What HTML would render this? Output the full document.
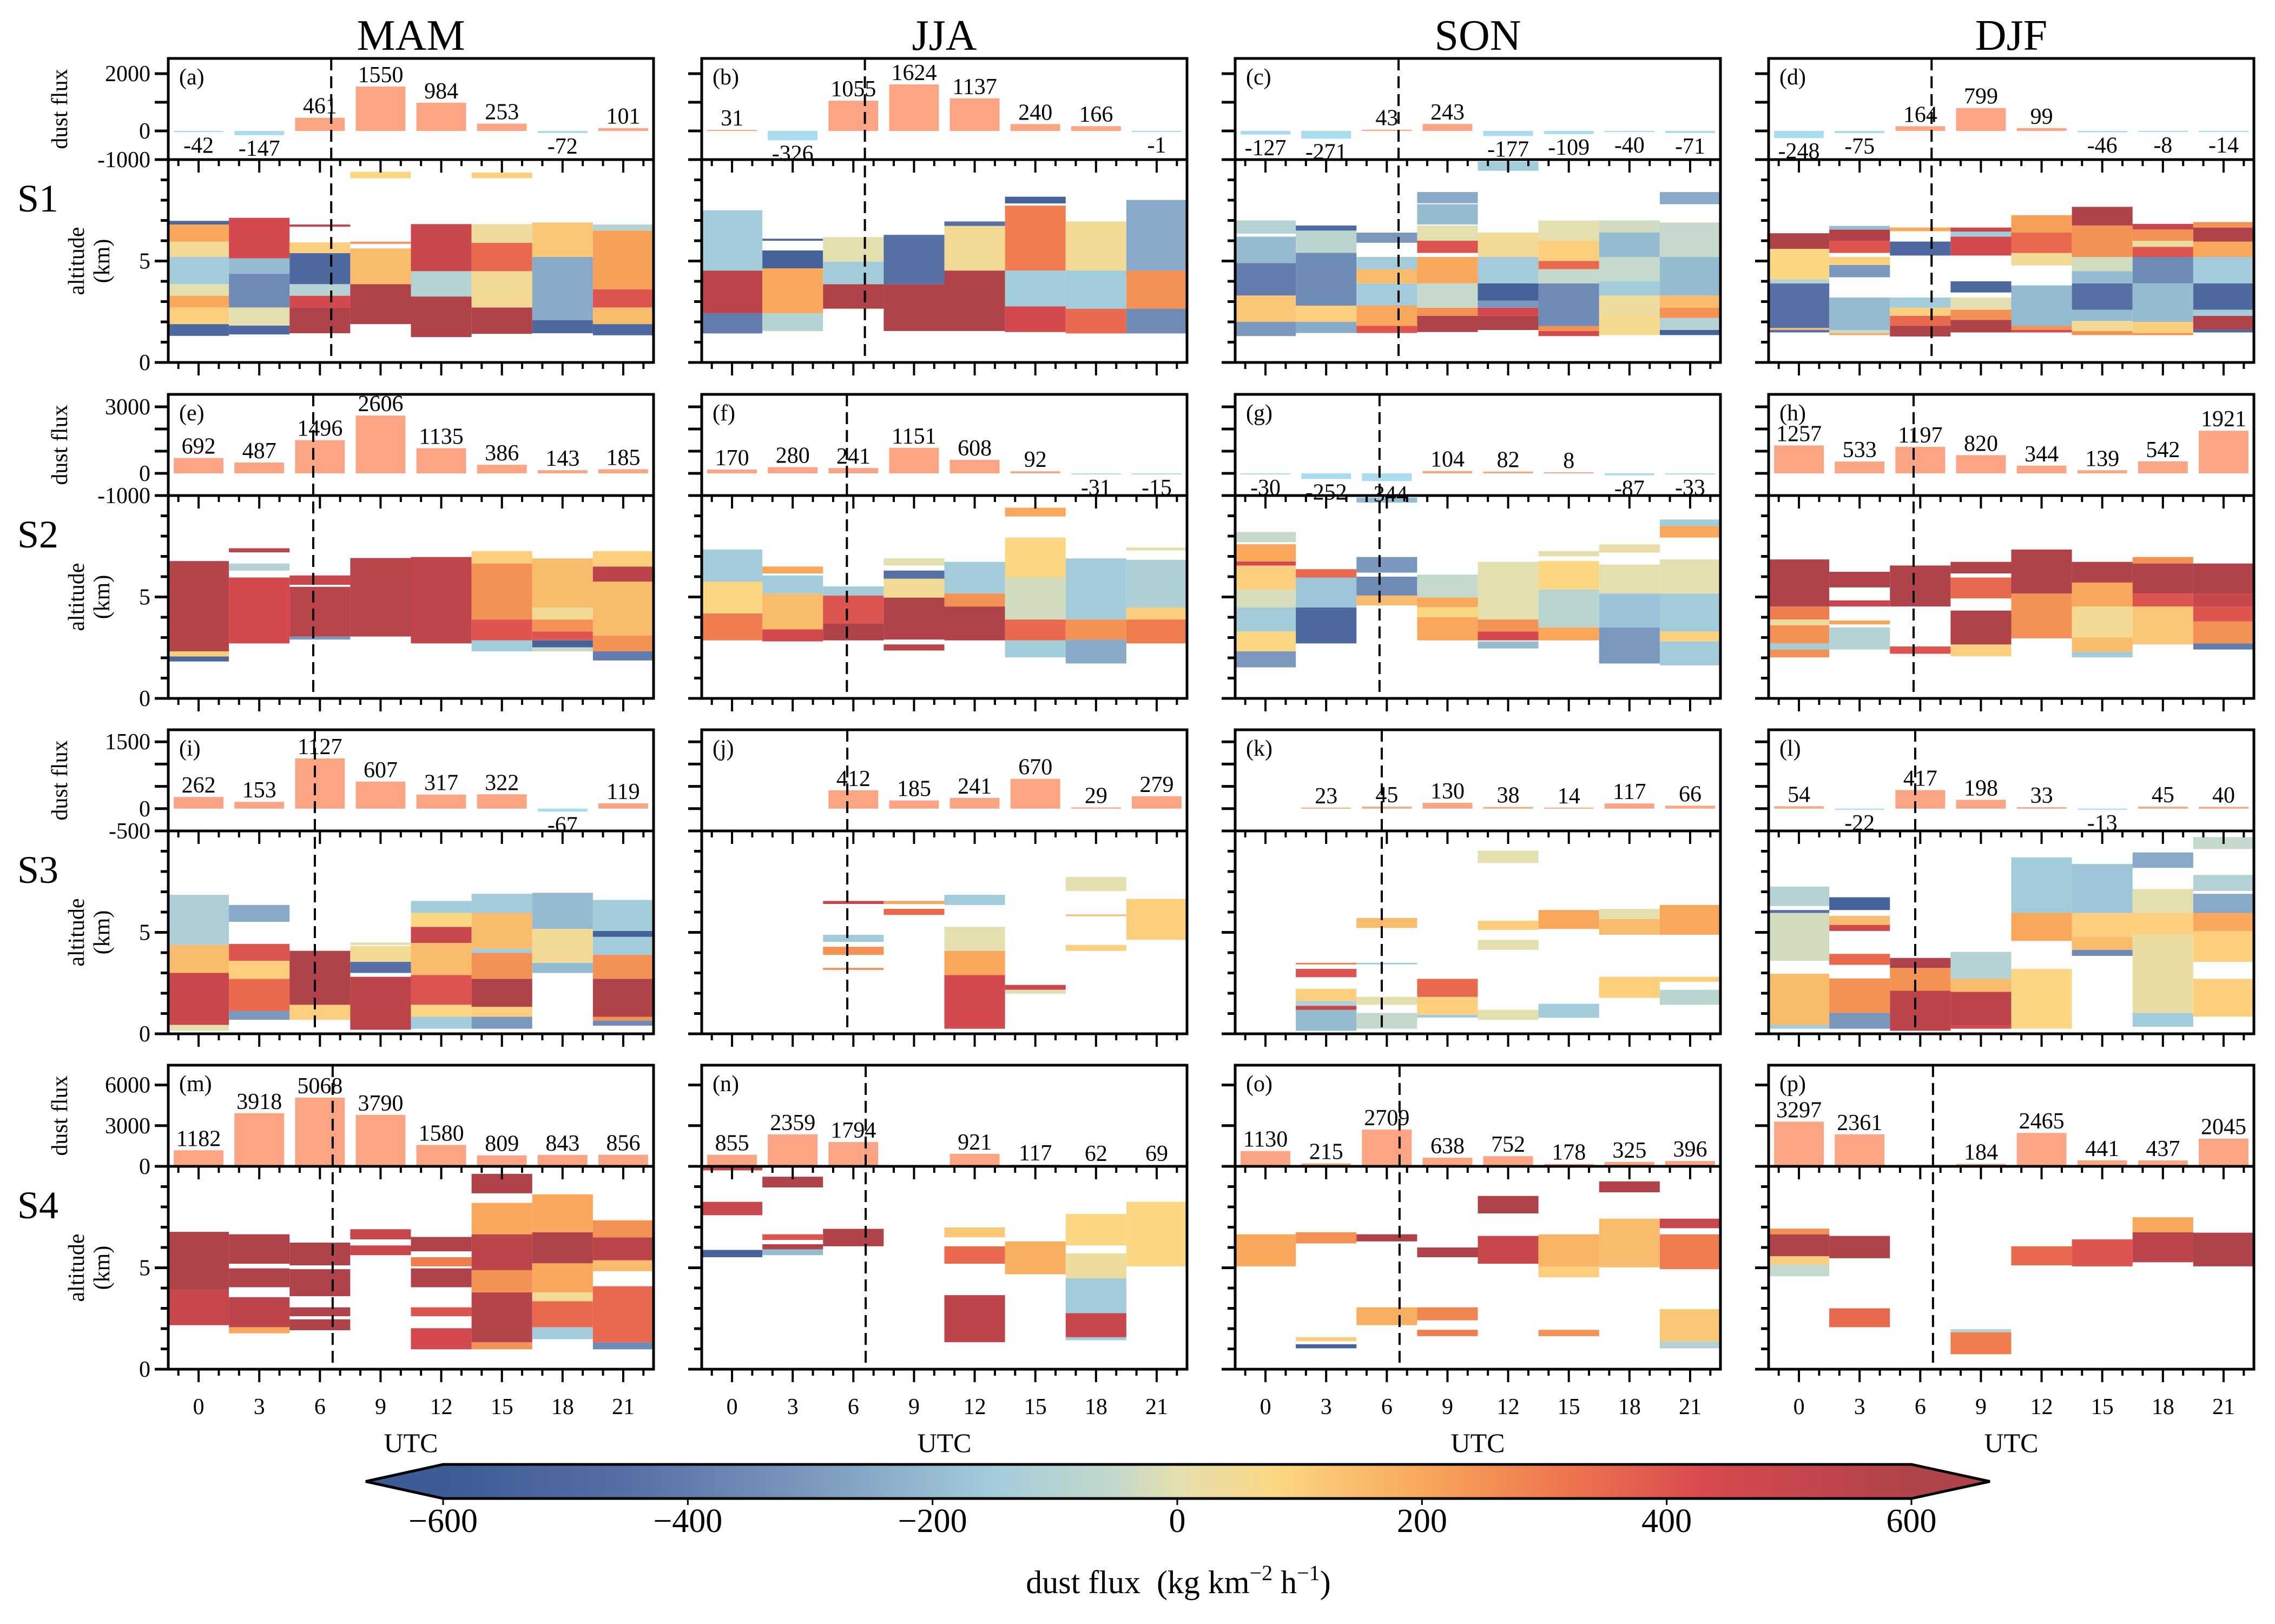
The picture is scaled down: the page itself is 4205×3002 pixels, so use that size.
<!DOCTYPE html>
<html><head><meta charset="utf-8">
<style>
html,body{margin:0;padding:0;background:#fff;}
svg{display:block;font-family:"Liberation Serif","DejaVu Serif",serif;}
</style></head>
<body>
<svg id="fig" xmlns="http://www.w3.org/2000/svg" width="4205" height="3002" viewBox="0 0 4205 3002">
<defs>
<linearGradient id="cbgrad" x1="0" x2="1" y1="0" y2="0"></linearGradient>
</defs>
<rect x="0" y="0" width="4205" height="3002" fill="#fff"/>
</svg>
<script>
// ---------- data ----------
const seasons = ["MAM","JJA","SON","DJF"];
const sites = ["S1","S2","S3","S4"];
const hours = [0,3,6,9,12,15,18,21];
const panelLetters = ["a","b","c","d","e","f","g","h","i","j","k","l","m","n","o","p"];
const dashHours = [[6.56,6.57,6.58,6.56],[5.67,5.68,5.64,5.67],[5.75,5.7,5.75,5.75],[6.63,6.61,6.63,6.63]];
const barRangeByRow = [[-1000,2530],[-1000,3560],[-500,1770],[0,7460]];
const barTicksByRow = [[-1000,0,1000,2000],[-1000,0,1000,2000,3000],[-500,0,500,1000,1500],[0,3000,6000]];
const barTickLabelsByRow = [["-1000","0","","2000"],["-1000","0","","","3000"],["-500","0","","","1500"],["0","3000","6000"]];
const altTicks = [0,1,2,3,4,5,6,7,8,9,10];
const cbTicks = [-600,-400,-200,0,200,400,600];

const bars_a = [-42,-147,461,1550,984,253,-72,101];
const bars_b = [31,-326,1055,1624,1137,240,166,-1];
const bars_c = [-127,-271,43,243,-177,-109,-40,-71];
const bars_d = [-248,-75,164,799,99,-46,-8,-14];
const bars_e = [692,487,1496,2606,1135,386,143,185];
const bars_f = [170,280,241,1151,608,92,-31,-15];
const bars_g = [-30,-252,-344,104,82,8,-87,-33];
const bars_h = [1257,533,1197,820,344,139,542,1921];
const bars_i = [262,153,1127,607,317,322,-67,119];
const bars_j = [null,null,412,185,241,670,29,279];
const bars_k = [null,23,45,130,38,14,117,66];
const bars_l = [54,-22,417,198,33,-13,45,40];
const bars_m = [1182,3918,5068,3790,1580,809,843,856];
const bars_n = [855,2359,1794,null,921,117,62,69];
const bars_o = [1130,215,2709,638,752,178,325,396];
const bars_p = [3297,2361,null,184,2465,441,437,2045];

// heat profiles: per UTC column, segments [bottom km, top km, flux]
const heat_a = [
 [[1.31,1.89,-500],[1.89,2.71,100],[2.71,3.29,200],[3.29,3.86,0],[3.86,5.2,-150],[5.2,5.96,50],[5.96,6.8,200],[6.8,6.98,-500]],
 [[1.38,1.82,-500],[1.82,2.71,0],[2.71,4.37,-350],[4.37,5.13,-200],[5.13,7.13,450]],
 [[1.44,2.71,600],[2.71,3.29,450],[3.29,3.86,-100],[3.86,5.39,-500],[5.39,5.92,100],[6.69,6.8,500]],
 [[1.89,3.86,600],[3.86,5.62,150],[5.85,5.95,250],[9.08,9.4,80]],
 [[1.25,3.25,600],[3.25,4.5,-100],[4.5,6.82,500]],
 [[1.41,2.71,600],[2.71,4.5,50],[4.5,5.9,350],[5.9,6.82,30],[9.08,9.36,100]],
 [[1.44,2.08,-500],[2.08,5.2,-250],[5.2,6.9,120]],
 [[1.34,1.89,-500],[1.89,2.71,150],[2.71,3.6,400],[3.6,6.5,220],[6.5,6.8,-100]]
];
const heat_b = [
 [[1.43,2.43,-400],[2.43,4.53,550],[4.53,7.5,-150]],
 [[1.55,2.43,-100],[2.43,4.64,200],[4.64,5.52,-550],[6.0,6.1,-500]],
 [[2.65,3.86,600],[3.86,4.97,-150],[4.97,6.18,0]],
 [[1.55,3.86,600],[3.86,6.29,-450]],
 [[1.55,4.53,600],[4.53,6.73,50],[6.73,6.95,-450]],
 [[1.5,2.76,450],[2.76,4.53,-150],[4.53,7.73,300],[7.84,8.17,-550]],
 [[1.43,2.65,350],[2.65,4.53,-150],[4.53,6.95,50]],
 [[1.43,2.65,-350],[2.65,4.53,250],[4.53,8.01,-250]]
];
const heat_c = [
 [[1.3,2.0,-300],[2.0,3.3,120],[3.3,4.9,-400],[4.9,6.2,-200],[6.35,7.0,-100]],
 [[1.45,2.0,-250],[2.0,2.8,100],[2.8,5.4,-350],[5.4,6.5,-80],[6.5,6.75,-500]],
 [[1.45,1.8,400],[1.8,2.8,200],[2.8,3.9,-150],[3.9,4.6,150],[4.6,5.2,-150],[5.9,6.4,-300]],
 [[1.5,2.3,600],[2.3,2.7,250],[2.7,3.9,-50],[3.9,5.2,200],[5.4,6.0,400],[6.0,6.75,0],[6.8,7.8,-200],[7.85,8.4,-250]],
 [[1.6,2.3,600],[2.3,2.7,450],[2.7,3.05,-300],[3.05,3.9,-550],[3.9,5.2,-150],[5.2,6.4,50],[9.45,9.9,-150]],
 [[1.3,1.55,450],[1.55,1.8,250],[1.8,3.9,-350],[3.9,4.6,-50],[4.6,5.0,350],[5.0,6.0,100],[6.0,7.0,0]],
 [[1.35,2.3,60],[2.3,3.3,30],[3.3,4.0,-150],[4.0,5.2,-50],[5.2,6.4,-200],[6.4,7.0,-30]],
 [[1.35,1.6,-550],[1.6,2.2,-100],[2.2,2.7,250],[2.7,3.3,150],[3.3,5.2,-200],[5.2,6.9,-50],[7.8,8.4,-250]]
];
const heat_d = [
 [[1.48,1.6,-450],[1.6,1.7,150],[1.7,3.9,-450],[3.9,4.1,-100],[4.1,5.6,80],[5.6,6.37,600]],
 [[1.35,1.45,200],[1.45,1.6,-50],[1.6,3.2,-200],[4.2,4.8,-300],[4.8,5.2,100],[5.4,6.0,400],[6.0,6.55,600],[6.55,6.73,-200]],
 [[1.28,1.8,600],[1.8,2.3,350],[2.3,2.7,100],[2.7,3.2,-150],[5.27,5.96,-500],[6.47,6.65,200]],
 [[1.48,2.1,600],[2.1,2.6,250],[2.6,3.2,0],[3.45,4.0,-500],[5.27,6.2,450],[6.2,6.45,-150],[6.45,6.65,500]],
 [[1.48,1.6,450],[1.6,1.8,250],[1.8,3.8,-200],[4.78,5.4,50],[5.4,6.4,350],[6.4,7.26,220]],
 [[1.35,1.55,250],[1.55,2.05,50],[2.05,2.6,-200],[2.6,3.9,-450],[3.9,4.5,-200],[4.5,5.2,-30],[5.2,6.75,250],[6.75,7.67,600]],
 [[1.35,1.45,250],[1.45,2.0,100],[2.0,3.9,-200],[3.9,5.2,-350],[5.2,5.7,400],[5.7,6.0,30],[6.0,6.55,250],[6.55,6.83,500]],
 [[1.48,1.62,-500],[1.62,2.3,600],[2.3,2.6,-150],[2.6,3.9,-500],[3.9,5.2,-150],[5.2,5.96,200],[5.96,6.65,600],[6.65,6.92,250]]
];
const heat_e = [
 [[1.82,2.07,-500],[2.07,2.32,100],[2.32,6.77,580]],
 [[2.71,5.96,450],[6.3,6.65,-100],[7.2,7.4,550]],
 [[2.9,3.05,-300],[3.05,5.5,560],[5.6,6.06,500]],
 [[3.05,6.92,560]],
 [[2.71,6.97,540]],
 [[2.32,2.86,-150],[2.86,3.89,400],[3.89,6.65,250],[6.65,7.26,100]],
 [[2.32,2.52,-50],[2.52,2.86,-550],[2.86,3.3,400],[3.3,3.89,250],[3.89,4.48,50],[4.48,6.9,150]],
 [[1.87,2.32,-400],[2.32,3.1,250],[3.1,5.76,150],[5.76,6.5,550],[6.5,7.26,100]]
];
const heat_f = [
 [[2.86,4.19,300],[4.19,5.76,80],[5.76,7.34,-150]],
 [[2.81,3.4,450],[3.4,5.17,150],[5.17,6.06,-150],[6.16,6.5,200]],
 [[2.86,3.7,600],[3.7,5.07,400],[5.07,5.52,-150]],
 [[2.36,2.66,550],[2.9,4.97,600],[4.97,5.9,50],[5.9,6.3,-450],[6.55,6.9,0]],
 [[2.86,4.53,600],[4.53,5.17,250],[5.17,6.73,-150]],
 [[2.02,2.86,-150],[2.86,3.89,350],[3.89,5.96,-30],[5.96,7.93,80],[8.97,9.4,200]],
 [[1.72,2.9,-250],[2.9,3.89,250],[3.89,6.9,-150]],
 [[2.71,3.89,300],[3.89,4.48,100],[4.48,6.83,-120],[7.29,7.44,0]]
];
const heat_g = [
 [[1.53,2.32,-300],[2.32,3.3,80],[3.3,4.48,-150],[4.48,5.37,-20],[5.37,6.55,100],[6.55,6.75,450],[6.75,7.6,200],[7.7,8.2,-50]],
 [[2.71,4.48,-500],[4.48,5.96,-170],[5.96,6.37,350]],
 [[4.58,5.07,150],[5.07,6.0,-350],[6.2,6.97,-300],[9.65,9.9,-200]],
 [[2.86,4.0,200],[4.0,4.5,80],[4.5,4.98,200],[4.98,6.1,-50]],
 [[2.46,2.81,-200],[2.86,3.3,450],[3.3,3.89,250],[3.89,6.73,0]],
 [[2.86,3.5,200],[3.5,5.37,-80],[5.37,6.77,80],[7.0,7.26,0]],
 [[1.72,3.5,-300],[3.5,5.17,-180],[5.17,6.6,0],[7.19,7.59,10]],
 [[1.63,2.81,-150],[2.81,3.3,100],[3.3,5.17,-150],[5.17,6.85,0],[7.93,8.5,200],[8.5,8.82,-150]]
];
const heat_h = [
 [[2.02,2.41,250],[2.41,2.71,-150],[2.71,3.6,250],[3.6,3.89,30],[3.89,4.53,300],[4.53,6.85,600]],
 [[2.41,3.5,-100],[3.65,3.84,200],[4.53,4.83,500],[5.47,6.24,600]],
 [[2.2,2.56,400],[4.53,6.55,600]],
 [[2.07,2.66,100],[2.66,4.33,600],[4.93,5.96,350],[6.16,6.73,600]],
 [[2.96,5.17,250],[5.17,7.34,600]],
 [[2.02,2.3,-150],[2.3,3.0,150],[3.0,4.53,50],[4.53,5.71,200],[5.71,6.73,600]],
 [[2.66,4.53,120],[4.53,5.17,400],[5.17,6.65,600],[6.65,6.97,250]],
 [[2.41,2.71,-400],[2.71,3.79,250],[3.79,4.53,400],[4.53,5.17,500],[5.17,6.65,600]]
];
const heat_i = [
 [[0.15,0.44,0],[0.44,3.0,500],[3.0,4.38,150],[4.38,6.85,-120]],
 [[0.69,1.13,-300],[1.13,2.71,350],[2.71,3.6,100],[3.6,4.43,400],[5.52,6.35,-250]],
 [[0.69,1.43,100],[1.43,4.09,600]],
 [[0.2,2.81,550],[3.0,3.55,-450],[3.55,4.33,50],[4.38,4.5,0]],
 [[0.25,0.84,-150],[0.84,1.43,80],[1.43,2.9,400],[2.9,4.48,150],[4.48,5.27,500],[5.27,5.96,80],[5.96,6.55,-150]],
 [[0.25,0.84,-300],[0.84,1.33,100],[1.33,2.71,600],[2.71,3.99,250],[3.99,4.19,-150],[4.19,5.96,150],[5.96,6.9,-150]],
 [[3.0,3.5,-200],[3.5,5.17,50],[5.17,6.95,-200]],
 [[0.4,0.65,-350],[0.65,0.84,250],[0.84,2.71,600],[2.71,3.89,250],[3.89,4.78,-150],[4.78,5.07,-550],[5.07,6.6,-150]]
];
const heat_j = [
 [],[],
 [[3.15,3.25,250],[3.89,4.29,250],[4.53,4.88,-150],[6.4,6.55,500]],
 [[5.86,6.16,350],[6.4,6.55,200]],
 [[0.25,2.9,450],[2.9,4.09,200],[4.09,5.27,0],[6.35,6.85,-150]],
 [[1.97,2.17,0],[2.17,2.41,500]],
 [[4.09,4.38,100],[5.8,5.88,150],[7.04,7.73,0]],
 [[4.63,6.65,100]]
];
const heat_k = [
 [],
 [[0.15,1.18,-200],[1.18,1.38,500],[1.38,1.63,-100],[1.63,2.22,100],[2.79,3.2,400],[3.42,3.5,300]],
 [[0.25,1.03,-50],[1.43,1.82,0],[3.42,3.5,-150],[5.22,5.71,150]],
 [[0.8,0.94,-150],[0.94,1.82,100],[1.82,2.71,350]],
 [[0.69,1.18,0],[4.14,4.63,0],[5.12,5.57,100],[8.42,9.03,0]],
 [[0.79,1.48,-150],[5.17,6.1,200]],
 [[1.77,2.81,100],[4.88,5.66,150],[5.66,6.16,0]],
 [[1.43,2.17,-80],[2.56,2.81,100],[4.88,6.35,200]]
];
const heat_l = [
 [[0.25,0.44,-150],[0.44,2.96,150],[3.6,5.96,-30],[5.96,6.1,-450],[6.3,7.26,-100]],
 [[0.25,1.03,-300],[1.03,2.73,250],[3.4,3.94,350],[5.07,5.37,450],[5.37,5.81,150],[6.1,6.73,-550]],
 [[0.15,2.12,550],[2.12,3.25,250],[3.25,3.74,600]],
 [[0.25,0.44,450],[0.44,2.07,550],[2.07,2.71,150],[2.71,4.04,-100]],
 [[0.25,3.2,80],[4.58,5.96,200],[5.96,8.7,-150]],
 [[3.84,4.14,-350],[4.14,4.78,150],[4.78,5.96,100],[5.96,8.37,-170]],
 [[0.35,1.03,-150],[1.03,4.88,20],[4.88,5.96,100],[5.96,7.14,0],[8.18,8.94,-250]],
 [[0.84,2.71,100],[3.55,5.07,100],[5.07,5.96,200],[5.96,6.9,-250],[7.04,7.83,-100],[9.11,9.7,-50]]
];
const heat_m = [
 [[2.17,3.9,500],[3.9,6.77,600]],
 [[1.77,2.07,200],[2.07,3.55,550],[4.04,4.97,600],[5.2,6.65,600]],
 [[1.92,2.46,600],[2.61,3.05,600],[3.6,4.93,600],[5.12,6.24,600]],
 [[5.62,6.1,500],[6.4,6.9,500]],
 [[0.98,2.02,450],[2.61,3.05,400],[4.04,4.97,600],[5.07,5.52,300],[5.81,6.52,600]],
 [[0.98,1.33,250],[1.33,3.79,580],[3.79,4.88,250],[4.88,6.65,550],[6.65,8.2,200],[8.67,9.63,600]],
 [[1.48,2.07,-150],[2.07,3.35,350],[3.35,3.79,50],[3.79,5.22,200],[5.22,6.75,600],[6.75,8.62,200]],
 [[0.98,1.33,-350],[1.33,4.09,350],[4.83,5.37,150],[5.37,6.5,550],[6.5,7.34,250]]
];
const heat_n = [
 [[5.52,5.88,-550],[7.59,8.25,500],[9.8,9.95,500]],
 [[5.62,5.91,-200],[5.91,6.16,600],[6.37,6.65,400],[8.96,9.49,600]],
 [[6.06,6.92,600]],
 [],
 [[1.33,3.65,550],[5.2,6.06,350],[6.5,6.99,120]],
 [[4.68,6.3,180]],
 [[1.43,1.58,-150],[1.58,2.76,500],[2.76,4.48,-150],[4.48,5.71,30],[6.1,7.65,80]],
 [[5.07,8.25,80]]
];
const heat_o = [
 [[5.07,6.65,200]],
 [[1.03,1.23,-550],[1.38,1.58,100],[6.2,6.75,250]],
 [[2.17,3.05,180],[6.3,6.65,600]],
 [[1.63,1.94,300],[2.41,3.05,280],[5.52,6.0,600]],
 [[5.2,6.57,500],[7.68,8.54,600]],
 [[1.63,1.94,250],[4.53,5.07,100],[5.07,6.65,170]],
 [[5.02,7.42,150],[8.72,9.26,600]],
 [[1.03,1.38,-100],[1.38,2.96,120],[4.93,6.65,300],[6.95,7.42,500]]
];
const heat_p = [
 [[4.58,5.17,-50],[5.17,5.57,100],[5.57,6.65,600],[6.65,6.93,250]],
 [[2.07,3.0,350],[5.47,6.57,600]],
 [],
 [[0.74,1.82,300],[1.82,1.97,-100]],
 [[5.12,6.06,350]],
 [[5.07,6.4,400]],
 [[5.27,6.75,550],[6.75,7.49,200]],
 [[5.07,6.73,600]]
];

const allBars = [bars_a,bars_b,bars_c,bars_d,bars_e,bars_f,bars_g,bars_h,bars_i,bars_j,bars_k,bars_l,bars_m,bars_n,bars_o,bars_p];
const allHeat = [heat_a,heat_b,heat_c,heat_d,heat_e,heat_f,heat_g,heat_h,heat_i,heat_j,heat_k,heat_l,heat_m,heat_n,heat_o,heat_p];

// ---------- layout ----------
const colLeft = [311,1297,2283,3269];
const panelW = 897;
const rowTop = [108,729,1349,1969];
const barH = 187, heatH = 375;
const cbLeft = 819, cbRight = 3533, cbTop = 2707, cbBot = 2770;

const cmapStops = [[-600,'#3d5b94'],[-450,'#5670a5'],[-300,'#7a98bd'],[-150,'#a3ccdb'],[-50,'#c4d8cb'],[0,'#e4dfae'],[80,'#fbd784'],[200,'#f8a75b'],[320,'#ee744e'],[430,'#d84a4f'],[600,'#b0434a']];
function hex2rgb(h){return [parseInt(h.substr(1,2),16),parseInt(h.substr(3,2),16),parseInt(h.substr(5,2),16)];}
function cmap(v){
  v=Math.max(-600,Math.min(600,v));
  for(let i=0;i<cmapStops.length-1;i++){
    const [v0,c0]=cmapStops[i],[v1,c1]=cmapStops[i+1];
    if(v<=v1){const t=(v-v0)/(v1-v0);const a=hex2rgb(c0),b=hex2rgb(c1);
      return 'rgb('+a.map((x,k)=>Math.round(x+(b[k]-x)*t)).join(',')+')';}
  }
  return cmapStops[cmapStops.length-1][1];
}

const NS='http://www.w3.org/2000/svg';
const svg=document.getElementById('fig');
function mk(tag,attrs,parent){const e=document.createElementNS(NS,tag);for(const k in attrs)e.setAttribute(k,attrs[k]);(parent||svg).appendChild(e);return e;}
function xScale(c,h){return colLeft[c]+(h+1.5)/24*panelW;}
function altScale(r,z){return rowTop[r]+barH+heatH-z/10*heatH;}
function barScale(r,v){const [lo,hi]=barRangeByRow[r];return rowTop[r]+barH-(v-lo)/(hi-lo)*barH;}

// colorbar gradient
const grad=document.getElementById('cbgrad');
for(const [v,c] of cmapStops){mk('stop',{offset:((v+600)/1200*100)+'%','stop-color':c},grad);}

// season titles
seasons.forEach((s,c)=>{
  const t=mk('text',{x:colLeft[c]+panelW/2,y:92,'font-size':80,'text-anchor':'middle'});
  
  
  t.textContent=s;
});

for(let r=0;r<4;r++){
  const sl=mk('text',{x:70,y:rowTop[r]+barH+96,'font-size':72,'text-anchor':'middle'});
  
  
  sl.textContent=sites[r];
  const yb=rowTop[r]+barH/2;
  const dl=mk('text',{x:0,y:0,'font-size':42,'text-anchor':'middle',transform:'translate(124,'+yb+') rotate(-90)'});
  
  
  dl.textContent='dust flux';
  const yh=rowTop[r]+barH+heatH/2;
  const al=mk('text',{x:0,y:0,'font-size':42,'text-anchor':'middle',transform:'translate(155,'+yh+') rotate(-90)'});
  
  
  al.textContent='altitude';
  const al2=mk('text',{x:0,y:0,'font-size':42,'text-anchor':'middle',transform:'translate(202,'+yh+') rotate(-90)'});
  
  
  al2.textContent='(km)';

  for(let c=0;c<4;c++){
    const idx=r*4+c;
    const L=colLeft[c],R=L+panelW,T=rowTop[r],M=T+barH,B=M+heatH;
    const g=mk('g',{});
    
    

    const heat=allHeat[idx];
    heat.forEach((col,k)=>{
      col.forEach(seg=>{
        const y1=altScale(r,seg[1]),y0=altScale(r,seg[0]);
        const rc=mk('rect',{x:xScale(c,hours[k]-1.5),y:y1,width:xScale(c,hours[k]+1.5)-xScale(c,hours[k]-1.5),height:Math.max(1,y0-y1),fill:cmap(seg[2])},g);
        
        
      });
    });

    const bars=allBars[idx];
    const y0=barScale(r,0);
    bars.forEach((v,k)=>{
      if(v===null) return;
      const xc=xScale(c,hours[k]),bw=2.46/24*panelW;
      const yv=barScale(r,v);
      const h=Math.max(2,Math.abs(yv-y0));
      const br=mk('rect',{x:xc-bw/2,y:v>=0?y0-h:y0,width:bw,height:h,fill:v>=0?'#fca585':'#a8dcef'},g);
      
      
      const lt=mk('text',{x:xc,y:v>=0?y0-h-8:y0+h+38,'font-size':42,'text-anchor':'middle'},g);
      
      
      lt.textContent=String(v);
    });

    const pl=mk('text',{x:L+20,y:T+48,'font-size':42},g);
    
    
    pl.textContent='('+panelLetters[idx]+')';

    const xd=xScale(c,dashHours[r][c]);
    const dsh=mk('line',{x1:xd,x2:xd,y1:T,y2:B,stroke:'#000','stroke-width':4,'stroke-dasharray':'22,11'},g);
    
    

    const f1=mk('rect',{x:L,y:T,width:panelW,height:barH,fill:'none',stroke:'#000','stroke-width':5},g);
    
    
    const f2=mk('rect',{x:L,y:M,width:panelW,height:heatH,fill:'none',stroke:'#000','stroke-width':5},g);
    
    

    barTicksByRow[r].forEach((tv,ti)=>{
      const yy=barScale(r,tv);
      const tk=mk('line',{x1:L-25,x2:L,y1:yy,y2:yy,stroke:'#000','stroke-width':5},g);
      
      
      if(c===0 && barTickLabelsByRow[r][ti]!==''){
        const tl=mk('text',{x:L-33,y:yy+14,'font-size':42,'text-anchor':'end'},g);
        
        
        tl.textContent=barTickLabelsByRow[r][ti];
      }
    });
    altTicks.forEach(z=>{
      const yy=altScale(r,z);
      const major=(z%5===0);
      const tk=mk('line',{x1:L-(major?25:14),x2:L,y1:yy,y2:yy,stroke:'#000','stroke-width':5},g);
      
      
      if(c===0 && major && z<10){
        const tl=mk('text',{x:L-33,y:yy+14,'font-size':42,'text-anchor':'end'},g);
        
        
        tl.textContent=String(z);
      }
    });
    for(let hh=-1;hh<=22;hh++){
      const xx=xScale(c,hh);
      const major=(hh>=0 && hh%3===0);
      const len=major?24:12;
      const tb=mk('line',{x1:xx,x2:xx,y1:B,y2:B+len,stroke:'#000','stroke-width':4},g);
      
      
      const tt=mk('line',{x1:xx,x2:xx,y1:M,y2:M+len,stroke:'#000','stroke-width':4},g);
      
      
    }
    if(r===3){
      hours.forEach(hh=>{
        const tl=mk('text',{x:xScale(c,hh),y:2614,'font-size':42,'text-anchor':'middle'},g);
        
        
        tl.textContent=String(hh);
      });
      const ut=mk('text',{x:L+panelW/2,y:2684,'font-size':50,'text-anchor':'middle'},g);
      
      
      ut.textContent='UTC';
    }
  }
}

// colorbar
const cbg=mk('g',{});


const cbMid=(cbTop+cbBot)/2;
const lt=mk('polygon',{points:cbLeft+','+cbTop+' '+cbLeft+','+cbBot+' 676,'+cbMid,fill:cmap(-600)},cbg);


const rt=mk('polygon',{points:cbRight+','+cbTop+' '+cbRight+','+cbBot+' 3678,'+cbMid,fill:cmap(600)},cbg);


const cbr=mk('rect',{x:cbLeft,y:cbTop,width:cbRight-cbLeft,height:cbBot-cbTop,fill:'url(#cbgrad)'},cbg);


const cbo=mk('polygon',{points:'676,'+cbMid+' '+cbLeft+','+cbTop+' '+cbRight+','+cbTop+' 3678,'+cbMid+' '+cbRight+','+cbBot+' '+cbLeft+','+cbBot,fill:'none',stroke:'#000','stroke-width':5},cbg);


cbTicks.forEach(v=>{
  const xx=cbLeft+(v+600)/1200*(cbRight-cbLeft);
  const tk=mk('line',{x1:xx,x2:xx,y1:cbBot,y2:cbBot+12,stroke:'#000','stroke-width':3},cbg);
  
  
  const tl=mk('text',{x:xx,y:2832,'font-size':62,'text-anchor':'middle'},cbg);
  
  
  tl.textContent=(v<0?'\u2212'+(-v):String(v));
});
const ct=mk('text',{x:2178,y:2945,'font-size':60,'text-anchor':'middle'},cbg);


ct.innerHTML='dust flux\u00a0\u00a0(kg km<tspan dy="-24" font-size="40">\u22122</tspan><tspan dy="24">\u00a0h</tspan><tspan dy="-24" font-size="40">\u22121</tspan><tspan dy="24">)</tspan>';
</script>
</body></html>
